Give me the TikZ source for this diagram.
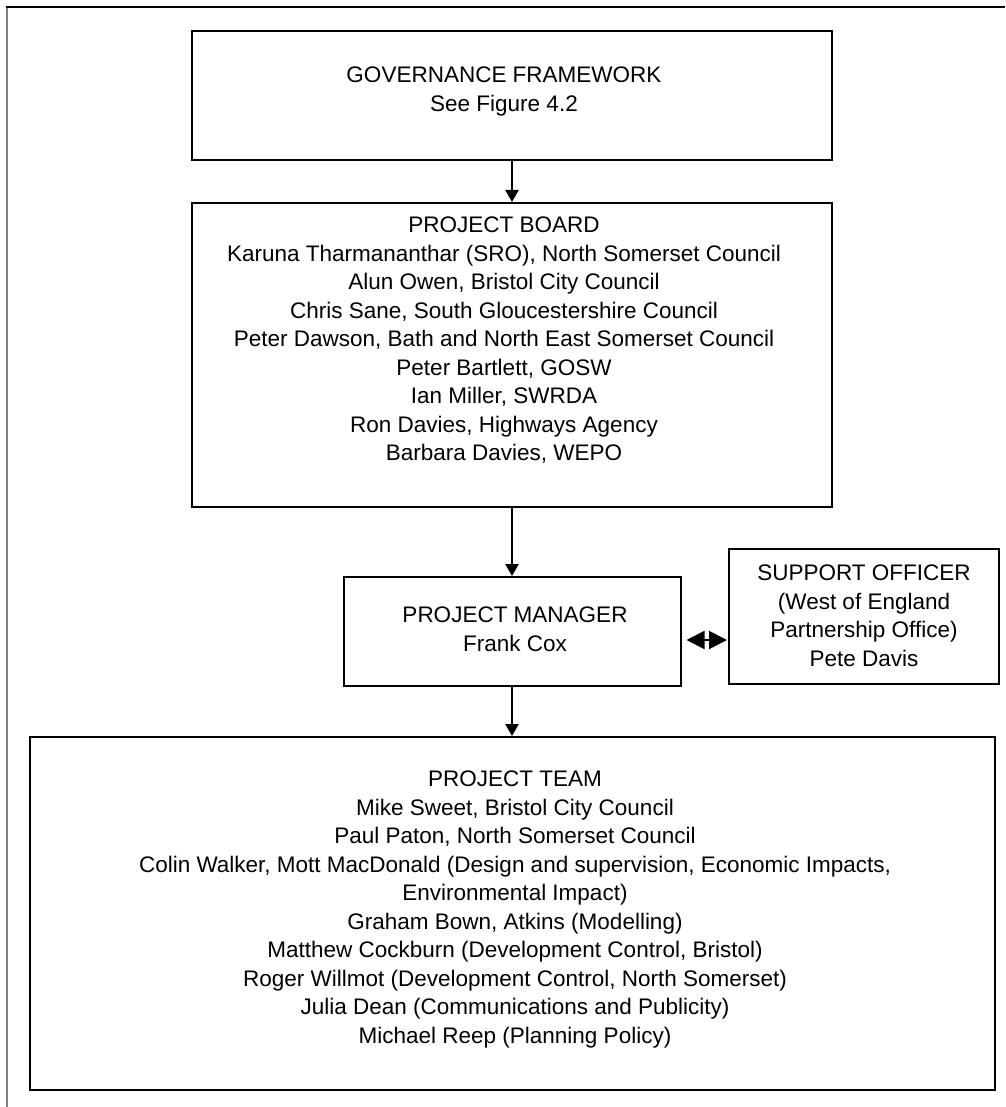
\documentclass[tikz,border=0pt]{standalone}
\usepackage{fontspec}
\setmainfont{Liberation Sans}
\usetikzlibrary{arrows.meta}
\begin{document}
\begin{tikzpicture}[x=1pt,y=-1pt,
  box/.style={draw=black, line width=2pt, inner sep=0pt, fill=white},
  txt/.style={font=\fontsize{22.5}{28.5}\selectfont, align=center, anchor=north, inner sep=0pt},
  link/.style={line width=2.2pt, -{Triangle[length=12pt,width=13pt]}},
  both/.style={line width=2pt, {Triangle[length=18pt,width=18pt]}-{Triangle[length=18pt,width=18pt]}}]
\useasboundingbox (0,0) rectangle (1005,1107);
% page frame
\draw[gray, line width=1.5pt] (7,7) -- (7,1107);
\draw[black, line width=2pt] (6.25,7) -- (1005,7);
% boxes
\node[box, minimum width=640pt, minimum height=129pt] (gov) at (512,95.5) {};
\node[box, minimum width=640pt, minimum height=304pt] (board) at (512,355) {};
\node[box, minimum width=337pt, minimum height=109pt] (pm) at (512,631.5) {};
\node[box, minimum width=270pt, minimum height=135pt] (sup) at (864,616.5) {};
\node[box, minimum width=965pt, minimum height=353pt] (team) at (512.5,913.5) {};
% texts
\node[txt] (govt) at (504,67) {GOVERNANCE FRAMEWORK\\See Figure 4.2};
\node[txt] (boardt) at (504,217) {PROJECT BOARD\\Karuna Tharmananthar (SRO), North Somerset Council\\Alun Owen, Bristol City Council\\Chris Sane, South Gloucestershire Council\\Peter Dawson, Bath and North East Somerset Council\\Peter Bartlett, GOSW\\Ian Miller, SWRDA\\Ron Davies, Highways Agency\\Barbara Davies, WEPO};
\node[txt] (pmt) at (515,607) {PROJECT MANAGER\\Frank Cox};
\node[txt] (supt) at (864,565) {SUPPORT OFFICER\\(West of England\\Partnership Office)\\Pete Davis};
\node[txt] (teamt) at (515,771) {PROJECT TEAM\\Mike Sweet, Bristol City Council\\Paul Paton, North Somerset Council\\Colin Walker, Mott MacDonald (Design and supervision, Economic Impacts,\\Environmental Impact)\\Graham Bown, Atkins (Modelling)\\Matthew Cockburn (Development Control, Bristol)\\Roger Willmot (Development Control, North Somerset)\\Julia Dean (Communications and Publicity)\\Michael Reep (Planning Policy)};
% connectors
\draw[link] (gov.south) -- (board.north);
\draw[link] (board.south) -- (pm.north);
\draw[link] (pm.south) -- (pm.south |- team.north);
\coordinate (dl) at ([xshift=5pt,yshift=-8.5pt]pm.east);
\coordinate (dr) at (dl -| sup.west);
\draw[both] (dl) -- ([xshift=-1pt]dr);
\end{tikzpicture}
\end{document}
